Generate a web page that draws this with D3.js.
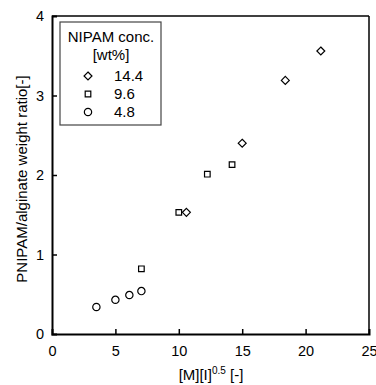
<!DOCTYPE html>
<html>
<head>
<meta charset="utf-8">
<script src="https://cdn.jsdelivr.net/npm/d3@7"></script>
<style>
  body { margin: 0; background: #fff; }
  svg { display: block; font-family: "Liberation Sans", Arial, sans-serif; }
  .tick text { font-size: 14.5px; fill: #000; }
</style>
</head>
<body>
<svg id="chart" width="376" height="385"></svg>
<script>
// Data
const concLabels = ["14.4", "9.6", "4.8"];
const series144 = [[10.6, 1.53], [15.0, 2.40], [18.4, 3.19], [21.2, 3.56]];
const series96 = [[7.05, 0.82], [10.0, 1.53], [12.25, 2.01], [14.2, 2.13]];
const series48 = [[3.5, 0.34], [5.0, 0.43], [6.1, 0.49], [7.05, 0.54]];
const xTicks = [0, 5, 10, 15, 20, 25];
const yTicks = [0, 1, 2, 3, 4];

const margin = { top: 16, right: 7, bottom: 51, left: 52 };
const width = 376 - margin.left - margin.right;
const height = 385 - margin.top - margin.bottom;

const svg = d3.select("#chart");
const g = svg.append("g")
    .attr("transform", `translate(${margin.left},${margin.top})`);

const x = d3.scaleLinear().domain([0, 25]).range([0, width]);
const y = d3.scaleLinear().domain([0, 4]).range([height, 0]);

// Frame (top/right thinner)
g.append("line").attr("x1", 0).attr("x2", width).attr("y1", 0).attr("y2", 0)
    .attr("stroke", "#000").attr("stroke-width", 1.5);
g.append("line").attr("x1", width).attr("x2", width).attr("y1", 0).attr("y2", height)
    .attr("stroke", "#000").attr("stroke-width", 1.5);

// Axes with inward ticks
const xAxis = g.append("g")
    .attr("transform", `translate(0,${height})`)
    .call(d3.axisBottom(x).tickValues(xTicks).tickSize(-5).tickPadding(12).tickFormat(d3.format("d")));
const yAxis = g.append("g")
    .call(d3.axisLeft(y).tickValues(yTicks).tickSize(-5).tickPadding(8).tickFormat(d3.format("d")));

[xAxis, yAxis].forEach(a => {
    a.select(".domain").attr("stroke-width", 2);
    a.selectAll(".tick line").attr("stroke-width", 1.5);
    a.selectAll(".tick").filter(d => d === 0 || d === 25 || d === 4).select("line").remove();
});

// Axis titles
const xt = svg.append("text")
    .attr("x", 211)
    .attr("y", 380)
    .attr("text-anchor", "middle")
    .attr("font-size", 15);
xt.append("tspan").text("[M][I]");
xt.append("tspan").attr("dy", -6).attr("font-size", 10).text("0.5");
xt.append("tspan").attr("dy", 6).text(" [-]");

svg.append("text")
    .attr("transform", "translate(27,179) rotate(-90)")
    .attr("text-anchor", "middle")
    .attr("font-size", 15)
    .text("PNIPAM/alginate weight ratio[-]");

// Markers
const diamond = d3.symbol().type(d3.symbolDiamond2).size(40);
const square = d3.symbol().type(d3.symbolSquare2).size(40);
const circle = d3.symbol().type(d3.symbolCircle).size(42);

const seriesDefs = [
    { data: series144, sym: diamond },
    { data: series96, sym: square },
    { data: series48, sym: circle }
];

seriesDefs.forEach(s => {
    g.selectAll(null)
        .data(s.data)
        .enter()
        .append("path")
        .attr("d", s.sym)
        .attr("transform", d => `translate(${x(d[0])},${y(d[1])})`)
        .attr("fill", "none")
        .attr("stroke", "#000")
        .attr("stroke-width", 1.2);
});

// Legend
const legend = svg.append("g").attr("transform", "translate(60,22)");
legend.append("rect")
    .attr("width", 101).attr("height", 103)
    .attr("fill", "#fff").attr("stroke", "#444").attr("stroke-width", 1.2);
legend.append("text").attr("x", 51).attr("y", 20).attr("text-anchor", "middle")
    .attr("font-size", 15).text("NIPAM conc.");
legend.append("text").attr("x", 51).attr("y", 38).attr("text-anchor", "middle")
    .attr("font-size", 15).text("[wt%]");

const legendSyms = [diamond, square, circle];
concLabels.forEach((lab, i) => {
    const ly = 54 + i * 18;
    legend.append("path")
        .attr("d", legendSyms[i])
        .attr("transform", `translate(28,${ly})`)
        .attr("fill", "none").attr("stroke", "#000").attr("stroke-width", 1.2);
    legend.append("text").attr("x", 54).attr("y", ly + 5)
        .attr("font-size", 15).text(lab);
});
</script>
</body>
</html>
